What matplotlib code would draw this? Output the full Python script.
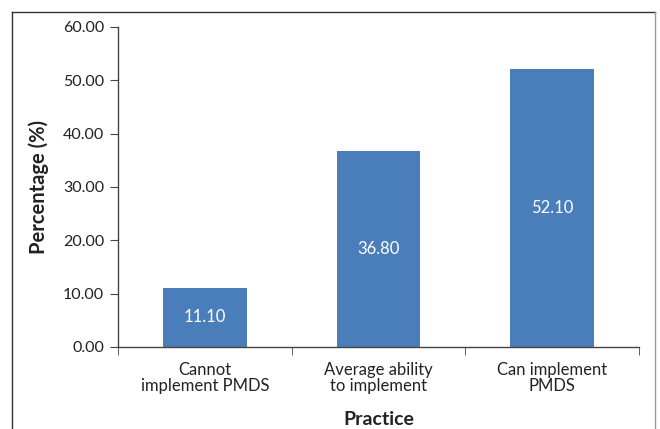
import matplotlib.pyplot as plt
from matplotlib.lines import Line2D

categories = ["Cannot\nimplement PMDS", "Average ability\nto implement", "Can implement\nPMDS"]
values = [11.10, 36.80, 52.10]
yticks = [0, 10, 20, 30, 40, 50, 60]

plt.rcParams['font.family'] = ['Lato', 'DejaVu Sans']

fig = plt.figure(figsize=(6.6, 4.29), dpi=100)
ax = fig.add_axes([118 / 660, 1 - 347 / 429, (639 - 118) / 660, (347 - 27) / 429])

x = range(len(categories))
bars = ax.bar(x, values, width=0.48, color="#4a7ebb")
for b, v in zip(bars, values):
    ax.text(b.get_x() + b.get_width() / 2, v / 2, f"{v:.2f}", ha="center", va="center",
            color="white", fontsize=12)

ax.set_xlim(-0.5, len(categories) - 0.5)
ax.set_ylim(0, 60)
ax.set_yticks(yticks)
ax.set_yticklabels([f"{t:.2f}" for t in yticks], fontsize=11.5, color="#222222")
ax.set_xticks(list(x))
ax.set_xticklabels(categories, fontsize=12, color="#222222", linespacing=1.0)
ax.set_xticks([i - 0.5 for i in range(len(categories) + 1)], minor=True)
ax.tick_params(axis="x", which="major", length=0, pad=11)
ax.tick_params(axis="x", which="minor", length=6, direction="out", color="#444444")
ax.tick_params(axis="y", length=6, direction="out", color="#444444", pad=4)

for s in ["top", "right"]:
    ax.spines[s].set_visible(False)
for s in ["left", "bottom"]:
    ax.spines[s].set_color("#444444")
    ax.spines[s].set_linewidth(1.0)

ax.set_ylabel("Percentage (%)", fontsize=14.5, fontweight="bold", color="#222222", labelpad=10)
ax.set_xlabel("Practice", fontsize=14, fontweight="bold", color="#222222", labelpad=12)

# outer frame
fig.add_artist(Line2D([12 / 660, 12 / 660], [0, 1 - 12 / 429], color="#333333", lw=1.0))
fig.add_artist(Line2D([12 / 660, 655 / 660], [1 - 12 / 429, 1 - 12 / 429], color="#333333", lw=1.0))
fig.add_artist(Line2D([655 / 660, 655 / 660], [0, 1 - 12 / 429], color="#999999", lw=1.0))

fig.savefig("out.png", dpi=100)
